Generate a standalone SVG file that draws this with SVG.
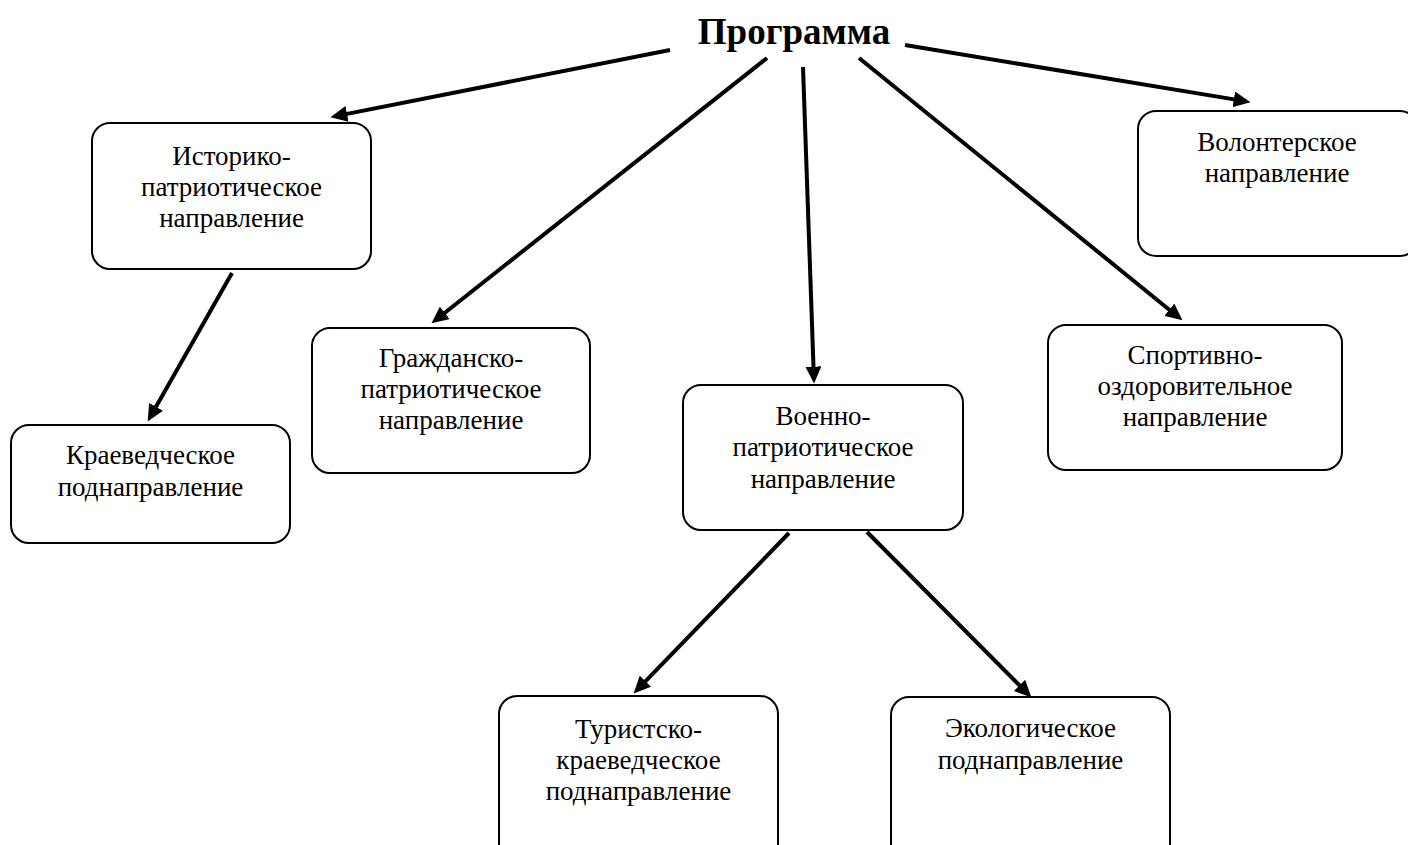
<svg xmlns="http://www.w3.org/2000/svg" width="1408" height="845" viewBox="0 0 1408 845">
<style>
.box{fill:#fff;stroke:#000;stroke-width:2}
.t{font-family:"Liberation Serif","Times New Roman",serif;font-size:27px;fill:#000;text-anchor:middle}
.title{font-family:"Liberation Serif","Times New Roman",serif;font-size:37px;font-weight:bold;fill:#000;text-anchor:middle}
.c{stroke:#000;stroke-width:4;fill:none;marker-end:url(#ah)}
</style>
<defs>
<marker id="ah" markerUnits="userSpaceOnUse" markerWidth="18" markerHeight="16" refX="6" refY="7.5" orient="auto" viewBox="0 0 17 15">
<path d="M0,0 L16,7.5 L0,15 Z" fill="#000"/>
</marker>
</defs>
<rect width="1408" height="845" fill="#fff"/>
<g id="connectors">
<line class="c" x1="670" y1="50" x2="340.8" y2="115.1"/>
<line class="c" x1="767" y1="58" x2="439.8" y2="316.8"/>
<line class="c" x1="803" y1="67" x2="813.7" y2="373"/>
<line class="c" x1="859" y1="58" x2="1174.2" y2="313.7"/>
<line class="c" x1="905" y1="45" x2="1240.1" y2="100.4"/>
<line class="c" x1="232" y1="273" x2="152.9" y2="412.3"/>
<line class="c" x1="789" y1="533" x2="641" y2="685.8"/>
<line class="c" x1="867" y1="532" x2="1024" y2="689.9"/>
</g>
<g id="programma">
<text class="title" x="794" y="44">Программа</text>
</g>
<g id="istoriko">
<rect class="box" x="92" y="123" width="279" height="146" rx="18"/>
<text class="t" x="231.5" y="165">Историко-</text>
<text class="t" x="231.5" y="196">патриотическое</text>
<text class="t" x="231.5" y="227">направление</text>
</g>
<g id="volonter">
<rect class="box" x="1138" y="111" width="280" height="145" rx="18"/>
<text class="t" x="1277" y="151">Волонтерское</text>
<text class="t" x="1277" y="182">направление</text>
</g>
<g id="kraeved">
<rect class="box" x="11" y="425" width="279" height="118" rx="18"/>
<text class="t" x="150.5" y="464">Краеведческое</text>
<text class="t" x="150.5" y="496">поднаправление</text>
</g>
<g id="grazhdan">
<rect class="box" x="312" y="328" width="278" height="145" rx="18"/>
<text class="t" x="451" y="367">Гражданско-</text>
<text class="t" x="451" y="398">патриотическое</text>
<text class="t" x="451" y="429">направление</text>
</g>
<g id="voenno">
<rect class="box" x="683" y="385" width="280" height="145" rx="18"/>
<text class="t" x="823" y="425">Военно-</text>
<text class="t" x="823" y="456">патриотическое</text>
<text class="t" x="823" y="488">направление</text>
</g>
<g id="sport">
<rect class="box" x="1048" y="325" width="294" height="145" rx="18"/>
<text class="t" x="1195" y="364">Спортивно-</text>
<text class="t" x="1195" y="395">оздоровительное</text>
<text class="t" x="1195" y="426">направление</text>
</g>
<g id="turist">
<rect class="box" x="499" y="696" width="279" height="170" rx="18"/>
<text class="t" x="638.5" y="738">Туристско-</text>
<text class="t" x="638.5" y="769">краеведческое</text>
<text class="t" x="638.5" y="800">поднаправление</text>
</g>
<g id="ekolog">
<rect class="box" x="891" y="697" width="279" height="170" rx="18"/>
<text class="t" x="1030.5" y="737">Экологическое</text>
<text class="t" x="1030.5" y="769">поднаправление</text>
</g>
</svg>
